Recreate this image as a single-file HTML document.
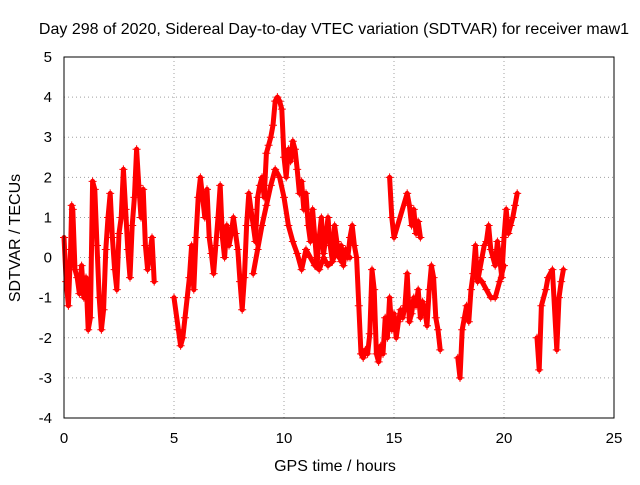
<!DOCTYPE html>
<html><head><meta charset="utf-8"><style>
body{margin:0;background:#fff}
svg{font-family:"Liberation Sans",sans-serif;font-size:15px}
</style></head><body>
<svg id="chart" width="640" height="480" xmlns="http://www.w3.org/2000/svg">
<rect width="640" height="480" fill="#fff"/>
<text x="334" y="34" text-anchor="middle" style="font-size:16px">Day 298 of 2020, Sidereal Day-to-day VTEC variation (SDTVAR) for receiver maw1</text>
<text x="335" y="471" text-anchor="middle" style="font-size:16px">GPS time / hours</text>
<text transform="translate(20,238) rotate(-90)" text-anchor="middle" style="font-size:16px">SDTVAR / TECUs</text>
<g id="grid"></g><g id="marks"></g>
<rect x="64" y="57" width="550" height="361" fill="none" stroke="#000"/>
</svg>
<script>
const xTicks=[0,5,10,15,20,25];
const yTicks=[-4,-3,-2,-1,0,1,2,3,4,5];
const mainT=[0,0.1,0.2,0.3,0.35,0.4,0.5,0.6,0.7,0.8,0.9,1.0,1.1,1.2,1.3,1.4,1.5,1.6,1.7,1.8,1.9,2.0,2.1,2.2,2.3,2.4,2.5,2.6,2.7,2.8,2.9,3.0,3.1,3.2,3.3,3.4,3.5,3.6,3.7,3.8,3.9,4.0,4.1];
const mainV=[0.5,-0.6,-1.2,0.2,1.3,1.2,-0.3,-0.5,-0.9,-0.2,-1.0,-0.5,-1.8,-1.5,1.9,1.7,0.3,-1.0,-1.8,-1.3,0.2,1.0,1.6,0.5,-0.3,-0.8,0.6,1.0,2.2,1.2,0.2,-0.5,0.8,1.5,2.7,1.8,1.0,1.7,0.3,-0.3,0.1,0.5,-0.6];
const midT=[5.0,5.2,5.3,5.4,5.5,5.6,5.7,5.8,5.9,6.0,6.1,6.2,6.3,6.4,6.5,6.6,6.7,6.8,6.9,7.0,7.1,7.2,7.3,7.4,7.5,7.6,7.7,7.8,7.9,8.0,8.1,8.2,8.3,8.4,8.5,8.6,8.7,8.8,8.9,9.0,9.1,9.2,9.3,9.4,9.5,9.6,9.7,9.8,9.9,10.0,10.1,10.2,10.3,10.4,10.5,10.6,10.7,10.8,10.9,11.0,11.1,11.2,11.3,11.4,11.5,11.6,11.7,11.8,11.9,12.0,12.1,12.2,12.3,12.4,12.5,12.6,12.7,12.8,12.9,13.0,13.1,13.2,13.3,13.4,13.5,13.6,13.7,13.8,13.9,14.0,14.1,14.2,14.3,14.4,14.5,14.6,14.7,14.8,14.9,15.0,15.1,15.2,15.3,15.4,15.5,15.6,15.7,15.8,15.9,16.0,16.1,16.2,16.3,16.4,16.5,16.6,16.7,16.8,16.9,17.0,17.1];
const midV=[-1.0,-1.8,-2.2,-2.0,-1.5,-1.0,-0.5,0.3,-0.8,0.5,1.5,2.0,1.5,1.0,1.7,0.5,0.1,-0.4,0.3,1.0,1.8,0.5,0.0,0.8,0.3,0.6,1.0,0.6,0.2,-0.6,-1.3,-0.5,0.8,1.6,1.2,0.8,0.4,1.5,1.8,2.0,1.5,2.6,2.8,3.0,3.3,3.9,4.0,3.9,3.7,2.5,2.0,2.7,2.4,2.9,2.7,2.2,1.6,1.9,1.2,1.6,0.8,0.4,1.2,0.5,-0.2,0.5,1.0,0.1,0.5,1.0,0.3,-0.1,0.8,0.4,0.0,0.3,-0.2,0.2,0.0,0.5,0.8,0.3,0.0,-1.2,-2.4,-2.5,-2.3,-2.4,-1.9,-0.3,-0.8,-2.4,-2.6,-2.2,-2.4,-1.5,-2.0,-1.0,-1.8,-1.4,-2.0,-1.6,-1.3,-1.5,-1.2,-0.4,-1.6,-1.4,-1.0,-1.2,-0.8,-1.5,-1.1,-1.3,-1.7,-0.8,-0.2,-0.5,-1.5,-1.8,-2.3];
const branchT=[8.6,8.8,9.0,9.2,9.4,9.6,9.8,10.0,10.2,10.4,10.6,10.8,11.0,11.2,11.4,11.6,11.8,12.0,12.2,12.4,12.6,12.8,13.0];
const branchV=[-0.4,0.2,0.8,1.3,1.8,2.2,2.0,1.5,0.8,0.4,0.1,-0.3,0.2,0.0,-0.2,-0.3,0.0,-0.2,-0.1,0.2,-0.1,0.1,0.0];
const b2T=[14.8,14.9,15.0,15.6,15.7,15.8,15.9,16.0,16.1,16.2];
const b2V=[2.0,1.0,0.5,1.6,1.3,0.8,1.2,0.6,0.9,0.5];
const lateT=[17.9,18.0,18.1,18.2,18.3,18.4,18.5,18.6,18.7,18.8,18.9,19.0,19.1,19.2,19.3,19.4,19.5,19.6,19.7,19.8,19.9,20.0,20.1,20.2,20.3,20.4,20.5,20.6];
const lateV=[-2.5,-3.0,-1.8,-1.5,-1.2,-1.6,-0.8,-0.4,0.3,-0.6,-0.3,0.0,0.3,0.4,0.8,0.2,0.0,-0.2,0.4,0.0,-0.5,0.5,1.2,0.6,0.8,1.0,1.3,1.6];
const b3T=[18.8,19.0,19.2,19.4,19.6,19.8,20.0];
const b3V=[-0.5,-0.6,-0.8,-1.0,-1.0,-0.6,-0.2];
const endT=[21.5,21.6,21.7,21.9,22.0,22.2,22.4,22.5,22.6,22.7];
const endV=[-2.0,-2.8,-1.2,-0.8,-0.5,-0.3,-2.3,-1.0,-0.6,-0.3];
const sX=t=>64+t*22, sY=v=>418-(v+4)*40.11;
const NS='http://www.w3.org/2000/svg', g=document.getElementById('grid'), m=document.getElementById('marks');
function mk(tag,at,par){const e=document.createElementNS(NS,tag);for(const k in at)e.setAttribute(k,at[k]);par.appendChild(e);return e;}
xTicks.forEach(t=>{const x=sX(t);
 if(t>0&&t<25){const l=mk('line',{x1:x,x2:x,y1:57,y2:418,stroke:'#a0a0a0','stroke-dasharray':'1,3'},g);}
 const tx=mk('text',{x:x,y:443,'text-anchor':'middle'},g);tx.textContent=t;});
yTicks.forEach(v=>{const y=sY(v);
 if(v>-4&&v<5){const l=mk('line',{x1:64,x2:614,y1:y,y2:y,stroke:'#a0a0a0','stroke-dasharray':'1,3'},g);}
 const tx=mk('text',{x:52,y:y+5,'text-anchor':'end'},g);tx.textContent=v;});
function series(T,V,name){
 const pts=T.map((t,i)=>sX(t)+','+sY(V[i])).join(' ');
 const pl=mk('polyline',{points:pts,fill:'none',stroke:'#f00','stroke-width':5,'stroke-linejoin':'round','stroke-linecap':'round'},m);
 
 
 T.forEach((t,i)=>{const x=sX(t),y=sY(V[i]);
  const p=mk('path',{d:`M${x-4},${y}h8M${x},${y-4}v8`,stroke:'#f00','stroke-width':1},m);
  
  });
}
series(mainT,mainV,'early');series(midT,midV,'main');series(branchT,branchV,'branch');series(b2T,b2V,'branch2');
series(lateT,lateV,'late');series(b3T,b3V,'branch3');series(endT,endV,'end');
</script>
</body></html>
